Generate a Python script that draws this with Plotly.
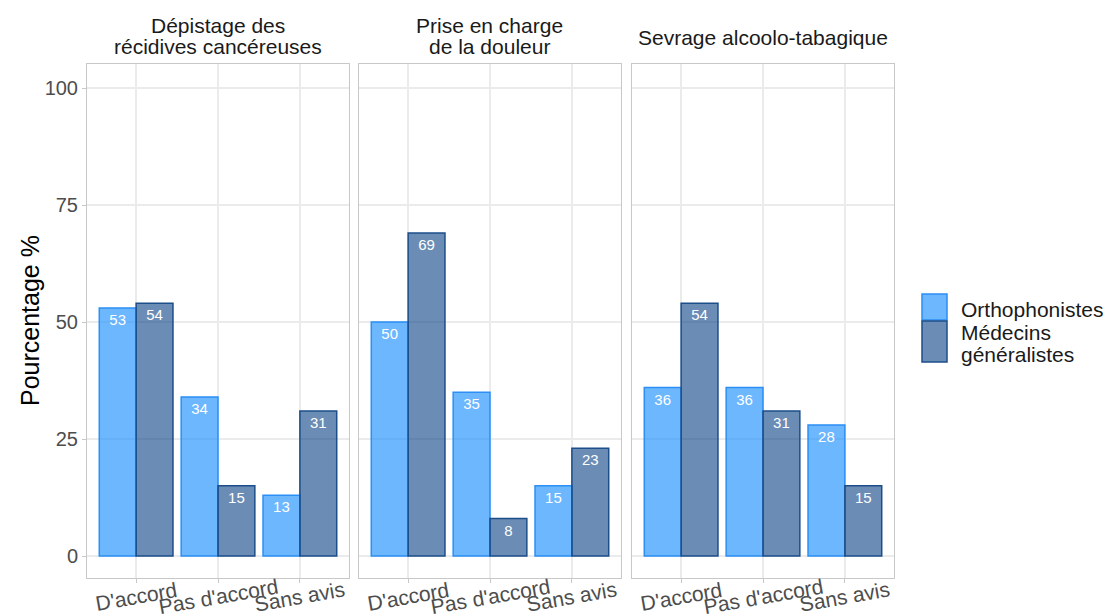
import plotly.graph_objects as go

categories = ["D'accord", "Pas d'accord", "Sans avis"]
panel_titles = [["Dépistage des", "récidives cancéreuses"],
                ["Prise en charge", "de la douleur"],
                ["Sevrage alcoolo-tabagique"]]
ortho = [[53, 34, 13], [50, 35, 15], [36, 36, 28]]
medecins = [[54, 15, 31], [69, 8, 23], [54, 31, 15]]
series_names = ["Orthophonistes", "Médecins généralistes"]
legend_lines = [["Orthophonistes"], ["Médecins", "généralistes"]]
ytick_vals = [0, 25, 50, 75, 100]

W, H = 1106, 615
FONT = "Liberation Sans"
xdoms = [(87 / W, 349 / W), (359 / W, 621 / W), (632 / W, 894 / W)]
ydom = (1 - 578 / H, 1 - 64 / H)

ortho_fill = "rgba(30,144,255,0.65)"
ortho_line = "#2B8FF5"
med_fill = "rgba(16,70,135,0.62)"
med_line = "#1C4E8A"
grid_col = "#EBEBEB"
border_col = "#C8C8C8"


def py(px):
    return 1 - px / H


fig = go.Figure()
for i in range(3):
    xa = "x" if i == 0 else f"x{i+1}"
    ya = "y" if i == 0 else f"y{i+1}"
    for vals, name, fill, line, og in [
        (ortho[i], series_names[0], ortho_fill, ortho_line, "a"),
        (medecins[i], series_names[1], med_fill, med_line, "b"),
    ]:
        fig.add_trace(go.Bar(
            x=categories, y=vals, name=name, xaxis=xa, yaxis=ya,
            offsetgroup=og, showlegend=False,
            marker=dict(color=fill, line=dict(color=line, width=1.5)),
            text=[str(v) for v in vals], textposition="inside",
            insidetextanchor="end", textangle=0,
            textfont=dict(color="white", size=15, family=FONT),
            constraintext="none", cliponaxis=False,
        ))

layout = dict(
    width=W, height=H, paper_bgcolor="white", plot_bgcolor="white",
    margin=dict(l=0, r=0, t=0, b=0, autoexpand=False),
    barmode="group", bargap=0.1, bargroupgap=0,
    font=dict(family=FONT, color="#4D4D4D"),
    showlegend=False,
)
for i in range(3):
    xk = "xaxis" if i == 0 else f"xaxis{i+1}"
    yk = "yaxis" if i == 0 else f"yaxis{i+1}"
    layout[xk] = dict(
        domain=list(xdoms[i]), anchor="y" if i == 0 else f"y{i+1}",
        type="category", categoryorder="array", categoryarray=categories,
        range=[-0.6, 2.6], showgrid=True, gridcolor=grid_col, gridwidth=1.5,
        showline=True, linecolor=border_col, linewidth=1, mirror=True,
        ticks="outside", ticklen=4, tickcolor=border_col,
        showticklabels=False, automargin=False, fixedrange=True,
    )
    layout[yk] = dict(
        domain=list(ydom), anchor="x" if i == 0 else f"x{i+1}",
        range=[-4.7, 105.13], tickvals=ytick_vals,
        showgrid=True, gridcolor=grid_col, gridwidth=1.5, zeroline=False,
        showline=True, linecolor=border_col, linewidth=1, mirror=True,
        showticklabels=(i == 0), ticks="outside" if i == 0 else "",
        ticklen=4, tickcolor=border_col,
        tickfont=dict(size=20, color="#4D4D4D"),
        automargin=False, fixedrange=True,
    )
fig.update_layout(**layout)

# rotated category labels centred under each tick
for i in range(3):
    xa = "x" if i == 0 else f"x{i+1}"
    for c in categories:
        fig.add_annotation(
            x=c, xref=xa, y=py(596), yref="paper",
            text=c, showarrow=False, textangle=-10,
            xanchor="center", yanchor="middle",
            font=dict(size=21, color="#4D4D4D", family=FONT),
        )

# facet titles (one annotation per line)
for i in range(3):
    cx = (xdoms[i][0] + xdoms[i][1]) / 2
    lines = panel_titles[i]
    centers = [25, 47] if len(lines) == 2 else [37]
    for txt, cy in zip(lines, centers):
        fig.add_annotation(
            x=cx, y=py(cy), xref="paper", yref="paper",
            text=txt, showarrow=False, xanchor="center", yanchor="middle",
            font=dict(size=21, color="#1A1A1A", family=FONT),
        )

# y axis title
fig.add_annotation(
    x=30 / W, y=(ydom[0] + ydom[1]) / 2, xref="paper", yref="paper",
    text="Pourcentage %", textangle=-90, showarrow=False,
    font=dict(size=25, color="#000000", family=FONT),
    xanchor="center", yanchor="middle",
)

# legend (drawn manually to match key size)
legend_keys = [
    (ortho_fill, ortho_line, 294, 320, [309]),
    (med_fill, med_line, 321, 362, [332, 354]),
]
for (fill, line, top, bot, centers), lines in zip(legend_keys, legend_lines):
    fig.add_shape(
        type="rect", xref="paper", yref="paper",
        x0=922 / W, x1=947 / W, y0=py(bot), y1=py(top),
        fillcolor=fill, line=dict(color=line, width=1.5),
    )
    for txt, cy in zip(lines, centers):
        fig.add_annotation(
            x=959 / W, y=py(cy), xref="paper", yref="paper",
            text=txt, showarrow=False, xanchor="left", yanchor="middle",
            font=dict(size=21, color="#1A1A1A", family=FONT),
        )

fig.write_html(
    "out.html", config={"displayModeBar": False},
    post_script="document.body.style.margin='0';document.body.style.overflow='hidden';",
)
